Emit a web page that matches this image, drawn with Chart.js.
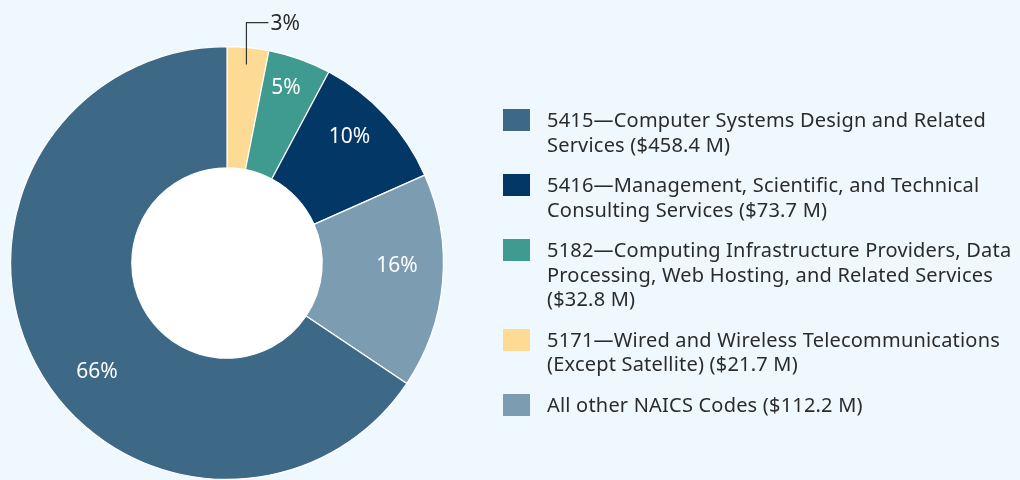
<!DOCTYPE html>
<html>
<head>
<meta charset="utf-8">
<script src="https://cdn.jsdelivr.net/npm/chart.js@4.4.1/dist/chart.umd.min.js"></script>
<style>
    html, body { margin: 0; padding: 0; background: #eff8fe; overflow: hidden; }
    #wrap { position: relative; width: 1020px; height: 480px; }
    #naics-chart { position: absolute; left: 0; top: 0; }
    #legend { position: absolute; left: 503px; top: 108px; font-family: "Noto Sans", sans-serif; font-size: 20px; letter-spacing: 0.2px; line-height: 24.5px; color: #2b2b2b; white-space: nowrap; }
    .item { display: flex; margin-bottom: 16px; }
    .box { width: 27px; height: 22px; margin-top: 1px; margin-right: 17px; flex: none; }
</style>
</head>
<body>
<div id="wrap">
    <canvas id="naics-chart" width="1020" height="480"></canvas>
    <div id="legend"></div>
</div>
<script>
// Slices in drawing order, clockwise from 12 o'clock
const codes = ['5171', '5182', '5416', 'Other', '5415'];
const amounts = [21.7, 32.8, 73.7, 112.2, 458.4];   // $ millions
const percentLabels = ['3%', '5%', '10%', '16%', '66%'];
const sliceColors = ['#fedb95', '#3f9a8f', '#033866', '#7b9cb1', '#3d6886'];
const legendLines = [
    ['5171\u2014Wired and Wireless Telecommunications', '(Except Satellite) ($21.7 M)'],
    ['5182\u2014Computing Infrastructure Providers, Data', 'Processing, Web Hosting, and Related Services', '($32.8 M)'],
    ['5416\u2014Management, Scientific, and Technical', 'Consulting Services ($73.7 M)'],
    ['All other NAICS Codes ($112.2 M)'],
    ['5415\u2014Computer Systems Design and Related', 'Services ($458.4 M)']
];
// legend lists the slices in a different order than they are drawn
const legendOrder = [4, 2, 1, 0, 3];

// Build the legend
const legendEl = document.getElementById('legend');
legendOrder.forEach(i => {
    const item = document.createElement('div');
    item.className = 'item';
    const box = document.createElement('div');
    box.className = 'box';
    box.style.background = sliceColors[i];
    const txt = document.createElement('div');
    txt.innerHTML = legendLines[i].join('<br>');
    item.appendChild(box);
    item.appendChild(txt);
    legendEl.appendChild(item);
});

// White hole in the middle of the ring
const holePlugin = {
    id: 'hole',
    beforeDatasetsDraw(chart) {
        const arc = chart.getDatasetMeta(0).data[0];
        if (!arc) return;
        const c = chart.ctx;
        c.save();
        c.fillStyle = '#ffffff';
        c.beginPath();
        c.arc(arc.x, arc.y, arc.innerRadius, 0, Math.PI * 2);
        c.fill();
        c.restore();
    }
};

// label placement tweaks (degrees off the slice middle, distance from centre)
const labelNudge = [0, -1, -3, -4, -12];
const labelRadius = [0, 185, 176, 170, 170];

// Percent labels; the smallest slice gets a leader line
const labelPlugin = {
    id: 'pctLabels',
    afterDatasetsDraw(chart) {
        const c = chart.ctx;
        const arcs = chart.getDatasetMeta(0).data;
        c.save();
        c.font = '21px "Noto Sans", sans-serif';
        c.textBaseline = 'middle';
        arcs.forEach((arc, i) => {
            const p = arc.getProps(['x', 'y', 'startAngle', 'endAngle', 'outerRadius']);
            let mid = (p.startAngle + p.endAngle) / 2;
            if (i === 0) {
                const sx = p.x + Math.cos(mid) * (p.outerRadius - 17);
                const sy = p.y + Math.sin(mid) * (p.outerRadius - 17);
                const topY = p.y - p.outerRadius - 24;
                c.strokeStyle = '#333333';
                c.lineWidth = 1.2;
                c.beginPath();
                c.moveTo(sx, sy);
                c.lineTo(sx, topY);
                c.lineTo(sx + 22, topY);
                c.stroke();
                c.fillStyle = '#2b2b2b';
                c.textAlign = 'left';
                c.fillText(percentLabels[i], sx + 24, topY + 1);
                return;
            }
            mid += labelNudge[i] * Math.PI / 180;
            const r = labelRadius[i];
            c.fillStyle = '#ffffff';
            c.textAlign = 'center';
            c.fillText(percentLabels[i], p.x + Math.cos(mid) * r, p.y + Math.sin(mid) * r);
        });
        c.restore();
    }
};

const ctx = document.getElementById('naics-chart').getContext('2d');
const naicsChart = new Chart(ctx, {
    type: 'doughnut',
    data: {
        labels: codes,
        datasets: [{
            data: amounts,
            backgroundColor: sliceColors,
            borderColor: '#ffffff',
            borderWidth: 1.2
        }]
    },
    options: {
        responsive: false,
        animation: false,
        cutout: '44%',
        layout: { padding: { left: 10, right: 576, top: 46, bottom: 0 } },
        plugins: {
            legend: { display: false },
            tooltip: { enabled: false }
        }
    },
    plugins: [holePlugin, labelPlugin]
});
</script>
</body>
</html>
